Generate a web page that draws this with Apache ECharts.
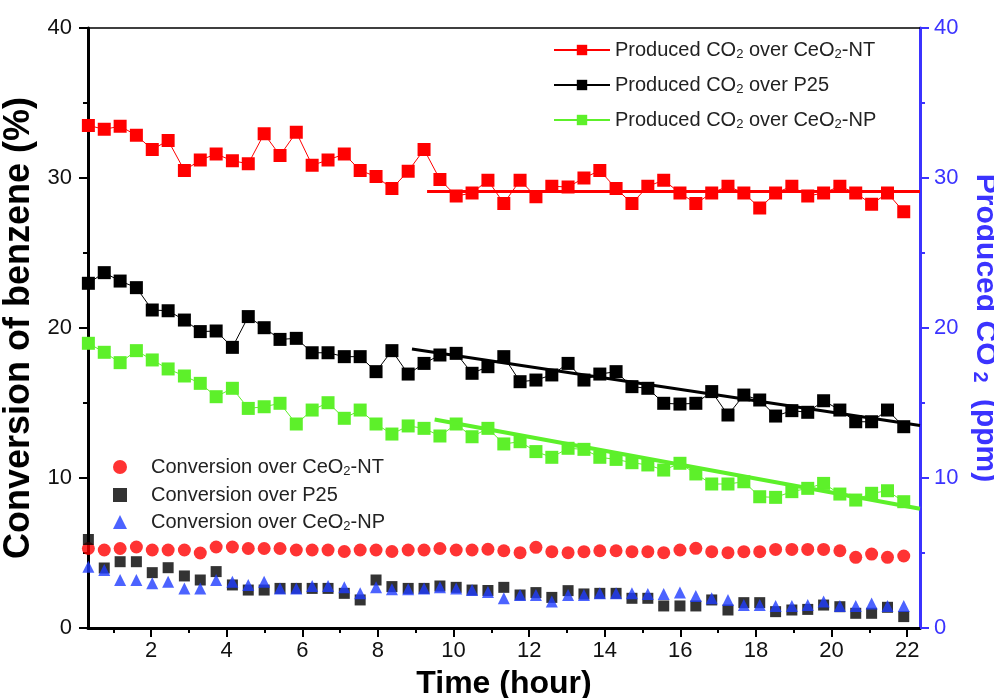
<!DOCTYPE html>
<html>
<head>
<meta charset="utf-8">
<script src="https://cdn.jsdelivr.net/npm/echarts@6/dist/echarts.min.js"></script>
<style>
html,body{margin:0;padding:0;background:#fff;}
#chart{width:994px;height:698px;}
</style>
</head>
<body>
<div id="chart"></div>
<script>
// ---- data ----
const times = [0.34, 0.76, 1.18, 1.61, 2.03, 2.45, 2.88, 3.30, 3.72, 4.15, 4.57, 4.99, 5.41, 5.84, 6.26, 6.68, 7.11, 7.53, 7.95, 8.37, 8.80, 9.22, 9.64, 10.07, 10.49, 10.91, 11.33, 11.76, 12.18, 12.60, 13.03, 13.45, 13.87, 14.30, 14.72, 15.14, 15.56, 15.99, 16.41, 16.83, 17.26, 17.68, 18.10, 18.52, 18.95, 19.37, 19.79, 20.22, 20.64, 21.06, 21.48, 21.91];

const co2NT = [33.5, 33.25, 33.45, 32.85, 31.9, 32.5, 30.5, 31.2, 31.6, 31.15, 30.95, 32.95, 31.5, 33.05, 30.85, 31.2, 31.6, 30.5, 30.1, 29.3, 30.45, 31.9, 29.9, 28.8, 29.0, 29.85, 28.3, 29.85, 28.75, 29.45, 29.4, 30.0, 30.5, 29.3, 28.3, 29.45, 29.85, 29.0, 28.3, 29.0, 29.45, 29.0, 28.0, 29.0, 29.45, 28.8, 29.0, 29.45, 29.0, 28.25, 29.0, 27.75];
const co2P25 = [22.98, 23.69, 23.13, 22.69, 21.2, 21.15, 20.53, 19.76, 19.8, 18.71, 20.76, 20.02, 19.24, 19.31, 18.35, 18.35, 18.09, 18.09, 17.09, 18.49, 16.93, 17.64, 18.2, 18.31, 16.98, 17.42, 18.09, 16.42, 16.53, 16.87, 17.64, 16.53, 16.93, 17.09, 16.09, 15.98, 14.98, 14.93, 14.98, 15.76, 14.2, 15.53, 15.2, 14.13, 14.49, 14.38, 15.15, 14.53, 13.75, 13.75, 14.53, 13.42];
const co2NP = [18.98, 18.38, 17.69, 18.49, 17.87, 17.27, 16.8, 16.31, 15.42, 15.98, 14.64, 14.75, 14.98, 13.6, 14.53, 15.02, 13.98, 14.53, 13.6, 12.93, 13.47, 13.31, 12.8, 13.6, 12.75, 13.31, 12.27, 12.42, 11.76, 11.38, 11.98, 11.91, 11.38, 11.24, 11.02, 10.87, 10.53, 10.98, 10.27, 9.6, 9.6, 9.75, 8.75, 8.71, 9.09, 9.31, 9.64, 8.93, 8.53, 8.98, 9.15, 8.42];

const convNT = [5.3, 5.2, 5.3, 5.4, 5.2, 5.2, 5.2, 5.0, 5.4, 5.4, 5.3, 5.3, 5.3, 5.2, 5.2, 5.2, 5.1, 5.2, 5.2, 5.1, 5.2, 5.2, 5.3, 5.2, 5.2, 5.25, 5.15, 5.02, 5.38, 5.09, 5.02, 5.09, 5.15, 5.15, 5.09, 5.09, 5.02, 5.2, 5.31, 5.09, 5.02, 5.09, 5.09, 5.24, 5.24, 5.24, 5.24, 5.15, 4.71, 4.93, 4.71, 4.8];
const convP25 = [5.9, 4.0, 4.42, 4.42, 3.69, 4.02, 3.47, 3.2, 3.76, 2.87, 2.53, 2.53, 2.64, 2.64, 2.64, 2.64, 2.31, 1.87, 3.2, 2.76, 2.64, 2.64, 2.8, 2.71, 2.53, 2.5, 2.71, 2.2, 2.36, 2.04, 2.49, 2.27, 2.31, 2.31, 1.98, 1.98, 1.47, 1.47, 1.47, 1.87, 1.2, 1.69, 1.69, 1.09, 1.2, 1.24, 1.53, 1.42, 0.98, 0.98, 1.38, 0.76];
const convNP = [4.09, 3.87, 3.2, 3.2, 2.98, 3.09, 2.64, 2.64, 3.2, 3.09, 2.87, 3.09, 2.64, 2.64, 2.8, 2.8, 2.71, 2.31, 2.71, 2.58, 2.58, 2.64, 2.71, 2.64, 2.53, 2.4, 1.98, 2.2, 2.2, 1.76, 2.2, 2.2, 2.31, 2.31, 2.31, 2.27, 2.27, 2.36, 2.13, 1.98, 1.87, 1.53, 1.53, 1.47, 1.47, 1.53, 1.76, 1.47, 1.47, 1.64, 1.47, 1.47];

// linear fits (start/end)
const fitNTx = [9.3, 22.34];  const fitNTy = [29.1, 29.1];
const fitP25x = [8.9, 22.34]; const fitP25y = [18.6, 13.5];
const fitNPx = [9.5, 22.34];  const fitNPy = [13.9, 7.95];

const xMajorTicks = [2, 4, 6, 8, 10, 12, 14, 16, 18, 20, 22];
const xMinorTicks = [1, 3, 5, 7, 9, 11, 13, 15, 17, 19, 21];
const xMin = 0.33, xMax = 22.34;

const names = {
  co2NT: 'Produced CO2 over CeO2-NT',
  co2P25: 'Produced CO2 over P25',
  co2NP: 'Produced CO2 over CeO2-NP',
  convNT: 'Conversion over CeO2-NT',
  convP25: 'Conversion over P25',
  convNP: 'Conversion over CeO2-NP'
};

// ---- build ----
const FONT = 'Liberation Sans';
const RED = '#ff0000', BLACK = '#000000', GREEN = '#5df02a', BLUE = '#1f3cff', AXBLUE = '#3b33ff';

function pairs(xs, ys) { return xs.map((x, i) => [x, ys[i]]); }
function richName(n) {
  const parts = n.split(/O2/);
  let s = '';
  parts.forEach((p, i) => {
    s += '{n|' + p + (i < parts.length - 1 ? 'O' : '') + '}';
    if (i < parts.length - 1) s += '{s|2}';
  });
  return s;
}
const richStyle = {
  n: { fontSize: 20, fontFamily: FONT, color: '#222', lineHeight: 22 },
  s: { fontSize: 13, fontFamily: FONT, color: '#222', lineHeight: 10, verticalAlign: 'bottom' }
};

const chart = echarts.init(document.getElementById('chart'), null, { renderer: 'canvas' });

function co2Series(name, ys, color) {
  return {
    name: name, type: 'line', xAxisIndex: 0, yAxisIndex: 1,
    data: pairs(times, ys),
    symbol: 'rect', symbolSize: 13,
    lineStyle: { color: color, width: 1 },
    itemStyle: { color: color },
    z: 3
  };
}
function fitSeries(xs, ys, color, w) {
  return {
    type: 'line', xAxisIndex: 0, yAxisIndex: 1,
    data: pairs(xs, ys), symbol: 'none', silent: true,
    lineStyle: { color: color, width: w }, z: 4
  };
}
function convSeries(name, ys, color, sym, size) {
  return {
    name: name, type: 'scatter', xAxisIndex: 0, yAxisIndex: 0,
    data: pairs(times, ys), symbol: sym, symbolSize: size,
    itemStyle: { color: color }, z: 3
  };
}

const option = {
  animation: false,
  backgroundColor: '#ffffff',
  grid: { left: 88, right: 74, top: 28, bottom: 70, containLabel: false, outerBoundsMode: 'none' },
  legend: [
    {
      data: [names.co2NT, names.co2P25, names.co2NP],
      orient: 'vertical', left: 548, top: 35,
      itemWidth: 56, itemHeight: 13, itemGap: 14,
      formatter: richName,
      textStyle: { rich: richStyle, fontSize: 20, fontFamily: FONT }
    },
    {
      data: [names.convNT, names.convP25, names.convNP],
      orient: 'vertical', left: 108, top: 452,
      itemWidth: 14, itemHeight: 14, itemGap: 7,
      formatter: richName,
      textStyle: { rich: richStyle, fontSize: 20, fontFamily: FONT, padding: [0, 0, 0, 19] }
    }
  ],
  xAxis: [
    {
      type: 'value', min: xMin, max: xMax, position: 'bottom',
      axisLine: { show: true, onZero: false, lineStyle: { color: BLACK, width: 3 } },
      axisTick: { show: true, inside: false, length: 9, customValues: xMajorTicks, lineStyle: { color: BLACK, width: 2 } },
      axisLabel: { show: true, customValues: xMajorTicks, fontSize: 22, fontFamily: FONT, color: '#111', margin: 12 },
      splitLine: { show: false },
      name: 'Time (hour)', nameLocation: 'middle', nameGap: 40,
      nameTextStyle: { fontSize: 32, fontWeight: 'bold', fontFamily: FONT, color: '#000' }
    },
    {
      type: 'value', min: xMin, max: xMax, position: 'bottom',
      axisLine: { show: false, onZero: false },
      axisTick: { show: true, inside: false, length: 5, customValues: xMinorTicks, lineStyle: { color: BLACK, width: 2 } },
      axisLabel: { show: false },
      splitLine: { show: false }
    },
    {
      type: 'value', min: xMin, max: xMax, position: 'top',
      axisLine: { show: true, onZero: false, lineStyle: { color: BLACK, width: 1.5 } },
      axisTick: { show: false }, axisLabel: { show: false }, splitLine: { show: false }
    }
  ],
  yAxis: [
    {
      type: 'value', min: 0, max: 40, interval: 10, position: 'left',
      axisLine: { show: true, onZero: false, lineStyle: { color: BLACK, width: 3 } },
      axisTick: { show: true, inside: false, length: 9, lineStyle: { color: BLACK, width: 2 } },
      minorTick: { show: true, splitNumber: 2, length: 5, lineStyle: { color: BLACK, width: 2 } },
      axisLabel: { fontSize: 22, fontFamily: FONT, color: '#111', margin: 16 },
      splitLine: { show: false }, minorSplitLine: { show: false },
      name: 'Conversion of benzene (%)', nameLocation: 'middle', nameGap: 42, nameRotate: 90,
      nameTextStyle: { fontSize: 36, fontWeight: 'bold', fontFamily: FONT, color: '#000' }
    },
    {
      type: 'value', min: 0, max: 40, interval: 10, position: 'right',
      axisLine: { show: true, onZero: false, lineStyle: { color: AXBLUE, width: 3 } },
      axisTick: { show: true, inside: false, length: 9, lineStyle: { color: AXBLUE, width: 2 } },
      minorTick: { show: true, splitNumber: 2, length: 5, lineStyle: { color: AXBLUE, width: 2 } },
      axisLabel: { fontSize: 22, fontFamily: FONT, color: AXBLUE, margin: 14 },
      splitLine: { show: false }, minorSplitLine: { show: false },
      name: '{a|Produced CO}{b|2}{a| (ppm)}', nameLocation: 'middle', nameGap: 30, nameRotate: -90,
      nameTextStyle: {
        color: AXBLUE,
        rich: {
          a: { fontSize: 30, fontWeight: 'bold', fontFamily: FONT, color: AXBLUE, lineHeight: 32 },
          b: { fontSize: 20, fontWeight: 'bold', fontFamily: FONT, color: AXBLUE, lineHeight: 16, verticalAlign: 'bottom', padding: [0, 8, 0, 6] }
        }
      }
    }
  ],
  series: [
    convSeries(names.convNT, convNT, RED, 'circle', 13),
    convSeries(names.convP25, convP25, BLACK, 'rect', 11),
    convSeries(names.convNP, convNP, BLUE, 'triangle', 12),
    co2Series(names.co2NT, co2NT, RED),
    co2Series(names.co2P25, co2P25, BLACK),
    co2Series(names.co2NP, co2NP, GREEN),
    fitSeries(fitNTx, fitNTy, RED, 3),
    fitSeries(fitP25x, fitP25y, BLACK, 3),
    fitSeries(fitNPx, fitNPy, GREEN, 4)
  ]
};
chart.setOption(option);
</script>
</body>
</html>
